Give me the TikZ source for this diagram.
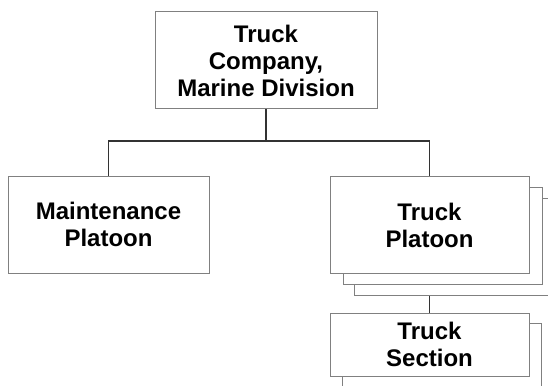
\documentclass[tikz,border=0pt]{standalone}
\usepackage{fontspec}
\setmainfont{Liberation Sans}
\begin{document}
\begin{tikzpicture}[x=1pt,y=-1pt,
  box/.style={draw=black!50, line width=1pt, fill=white, align=center, inner sep=0pt,
    font=\fontsize{24}{27}\selectfont\bfseries},
  conn/.style={draw=black!80, line width=1.8pt}]
\useasboundingbox (0,0) rectangle (548,385);
\node[box, minimum width=222pt, minimum height=97pt] (top) at (266,60.5) {Truck\\Company,\\Marine Division};
\node[box, minimum width=201pt, minimum height=97pt] (maint) at (108.5,224.5) {Maintenance\\Platoon};
\node[box, minimum width=199pt, minimum height=97pt] (plat3) at (453.5,247) {};
\node[box, minimum width=199pt, minimum height=97pt] (plat2) at (442.5,236) {};
\node[box, minimum width=199pt, minimum height=97pt] (plat) at (429.5,225) {Truck\\Platoon};
\node[box, minimum width=199pt, minimum height=63pt] (sec2) at (441.5,354.5) {};
\node[box, minimum width=199pt, minimum height=63pt] (sec) at (429.5,344.5) {Truck\\Section};
\coordinate (bus) at (266,141);
\draw[conn] (top.south) -- (top.south |- bus);
\draw[conn] (maint.north) |- (plat.north |- bus) -- (plat.north);
\draw[conn] (plat.south |- plat3.south) -- (sec.north);
\end{tikzpicture}
\end{document}
